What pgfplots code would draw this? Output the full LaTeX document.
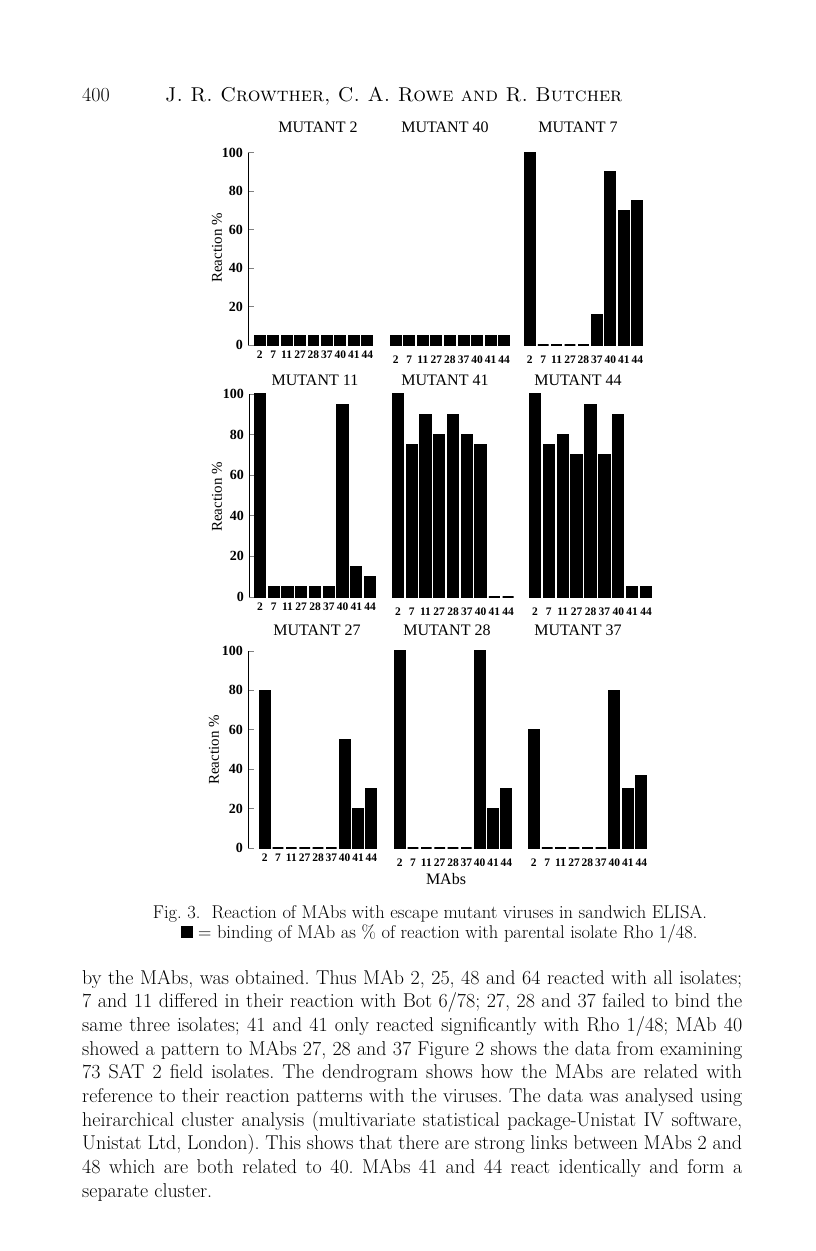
\documentclass[border=0pt]{standalone}
\usepackage{fontspec}
\usepackage{pgfplots}
\pgfplotsset{compat=1.18}
\newfontfamily\tnr{Liberation Serif}
\frenchspacing

\pgfplotsset{
  mabs/.style={
    ybar, scale only axis, anchor=south west, clip=false,
    ymin=0, ymax=100, xmax=8.5,
    bar width=0.8,
    axis x line*=bottom, axis y line*=left,
    x axis line style={draw=none},
    xtick={0,...,8}, xticklabels={2,7,11,27,28,37,40,41,44},
    x tick style={draw=none},
    xticklabel style={font=\tnr\bfseries\fontsize{11.5}{12}\selectfont, inner sep=0pt, anchor=north, yshift=-6pt},
  },
  first/.style={
    ytick={0,20,...,100}, tick align=inside, major tick length=6pt,
    y axis line style={line width=1pt}, y tick style={line width=1pt},
    /pgf/number format/assume math mode=true,
    yticklabel style={font=\tnr\bfseries\fontsize{14}{14}\selectfont, inner sep=0pt, xshift=-5pt},
  },
  other/.style={ytick=\empty, y axis line style={draw=none}, xmin=-0.5},
  bars/.style={fill=black, draw=black, line width=1.2pt},
}

\begin{document}
\begin{tikzpicture}
\path[use as bounding box, fill=white] (0,0) rectangle (816pt,-1251pt);

% running head
\node[anchor=base west, inner sep=0, font=\fontsize{20}{20}\selectfont] at (82pt,-101pt) {400};
\node[anchor=base west, inner sep=0, font=\fontsize{20}{20}\selectfont] at (165pt,-101pt) {\textsc{J. R. Crowther, C. A. Rowe and R. Butcher}};

% row 1
\begin{axis}[mabs, first, at={(248pt,-345pt)}, width=126pt, height=192.5pt, xmin=-0.87]
\addplot[bars] coordinates {(0,5) (1,5) (2,5) (3,5) (4,5) (5,5) (6,5) (7,5) (8,5)};
\end{axis}
\begin{axis}[mabs, other, at={(389pt,-345pt)}, width=122pt, height=192.5pt]
\addplot[bars] coordinates {(0,5) (1,5) (2,5) (3,5) (4,5) (5,5) (6,5) (7,5) (8,5)};
\end{axis}
\begin{axis}[mabs, other, at={(523pt,-345pt)}, width=121pt, height=192.5pt]
\addplot[bars] coordinates {(0,100) (1,0) (2,0) (3,0) (4,0) (5,16) (6,90) (7,70) (8,75)};
\end{axis}

% row 2
\begin{axis}[mabs, first, at={(249pt,-597pt)}, width=128pt, height=203pt, xmin=-0.79]
\addplot[bars] coordinates {(0,100) (1,5) (2,5) (3,5) (4,5) (5,5) (6,95) (7,15) (8,10)};
\end{axis}
\begin{axis}[mabs, other, at={(391pt,-597pt)}, width=124pt, height=203pt]
\addplot[bars] coordinates {(0,100) (1,75) (2,90) (3,80) (4,90) (5,80) (6,75) (7,0) (8,0)};
\end{axis}
\begin{axis}[mabs, other, at={(528pt,-597pt)}, width=125pt, height=203pt]
\addplot[bars] coordinates {(0,100) (1,75) (2,80) (3,70) (4,95) (5,70) (6,90) (7,5) (8,5)};
\end{axis}

% row 3
\begin{axis}[mabs, first, at={(248pt,-848pt)}, width=130pt, height=197pt, xmin=-1.25]
\addplot[bars] coordinates {(0,80) (1,0) (2,0) (3,0) (4,0) (5,0) (6,55) (7,20) (8,30)};
\end{axis}
\begin{axis}[mabs, other, at={(393pt,-848pt)}, width=120pt, height=197pt]
\addplot[bars] coordinates {(0,100) (1,0) (2,0) (3,0) (4,0) (5,0) (6,100) (7,20) (8,30)};
\end{axis}
\begin{axis}[mabs, other, at={(527pt,-848pt)}, width=121pt, height=197pt]
\addplot[bars] coordinates {(0,60) (1,0) (2,0) (3,0) (4,0) (5,0) (6,80) (7,30) (8,37)};
\end{axis}

% panel titles and axis labels
\begin{scope}[every node/.style={inner sep=0, font=\tnr\fontsize{16}{16}\selectfont}]
\node at (318pt,-127pt) {MUTANT 2};
\node at (445pt,-127pt) {MUTANT 40};
\node at (578pt,-127pt) {MUTANT 7};
\node at (315pt,-380pt) {MUTANT 11};
\node at (445pt,-380pt) {MUTANT 41};
\node at (578pt,-380pt) {MUTANT 44};
\node at (317pt,-630pt) {MUTANT 27};
\node at (447pt,-630pt) {MUTANT 28};
\node at (578pt,-630pt) {MUTANT 37};
\node at (446pt,-879pt) {MAbs};
\node[rotate=90, font=\tnr\fontsize{15}{15}\selectfont] at (217pt,-248pt) {Reaction \%};
\node[rotate=90, font=\tnr\fontsize{15}{15}\selectfont] at (217pt,-497pt) {Reaction \%};
\node[rotate=90, font=\tnr\fontsize{15}{15}\selectfont] at (214pt,-750pt) {Reaction \%};
\end{scope}

% caption
\begin{scope}[every node/.style={inner sep=0, anchor=base, font=\fontsize{18.5}{18.5}\selectfont}]
\node at (430pt,-918pt) {Fig. 3.\ \ Reaction of MAbs with escape mutant viruses in sandwich ELISA.};
\node at (439pt,-938pt) {\rule{12pt}{12pt} = binding of MAb as \% of reaction with parental isolate Rho 1/48.};
\end{scope}

% body text
\begin{scope}[every node/.style={inner sep=0, anchor=base west, font=\fontsize{20}{20}\selectfont}]
\node at (82pt,-984pt)    {\makebox[660pt][s]{by the MAbs, was obtained. Thus MAb 2, 25, 48 and 64 reacted with all isolates;}};
\node at (82pt,-1007.7pt) {\makebox[660pt][s]{7 and 11 differed in their reaction with Bot 6/78; 27, 28 and 37 failed to bind the}};
\node at (82pt,-1031.4pt) {\makebox[660pt][s]{same three isolates; 41 and 41 only reacted significantly with Rho 1/48; MAb 40}};
\node at (82pt,-1055.1pt) {\makebox[660pt][s]{showed a pattern to MAbs 27, 28 and 37 Figure 2 shows the data from examining}};
\node at (82pt,-1078.8pt) {\makebox[660pt][s]{73 SAT 2 field isolates. The dendrogram shows how the MAbs are related with}};
\node at (82pt,-1102.5pt) {\makebox[660pt][s]{reference to their reaction patterns with the viruses. The data was analysed using}};
\node at (82pt,-1126.2pt) {\makebox[660pt][s]{heirarchical cluster analysis (multivariate statistical package-Unistat IV software,}};
\node at (82pt,-1149.9pt) {\makebox[660pt][s]{Unistat Ltd, London). This shows that there are strong links between MAbs 2 and}};
\node at (82pt,-1173.6pt) {\makebox[660pt][s]{48 which are both related to 40. MAbs 41 and 44 react identically and form a}};
\node at (82pt,-1197.3pt) {separate cluster.};
\end{scope}
\end{tikzpicture}
\end{document}
